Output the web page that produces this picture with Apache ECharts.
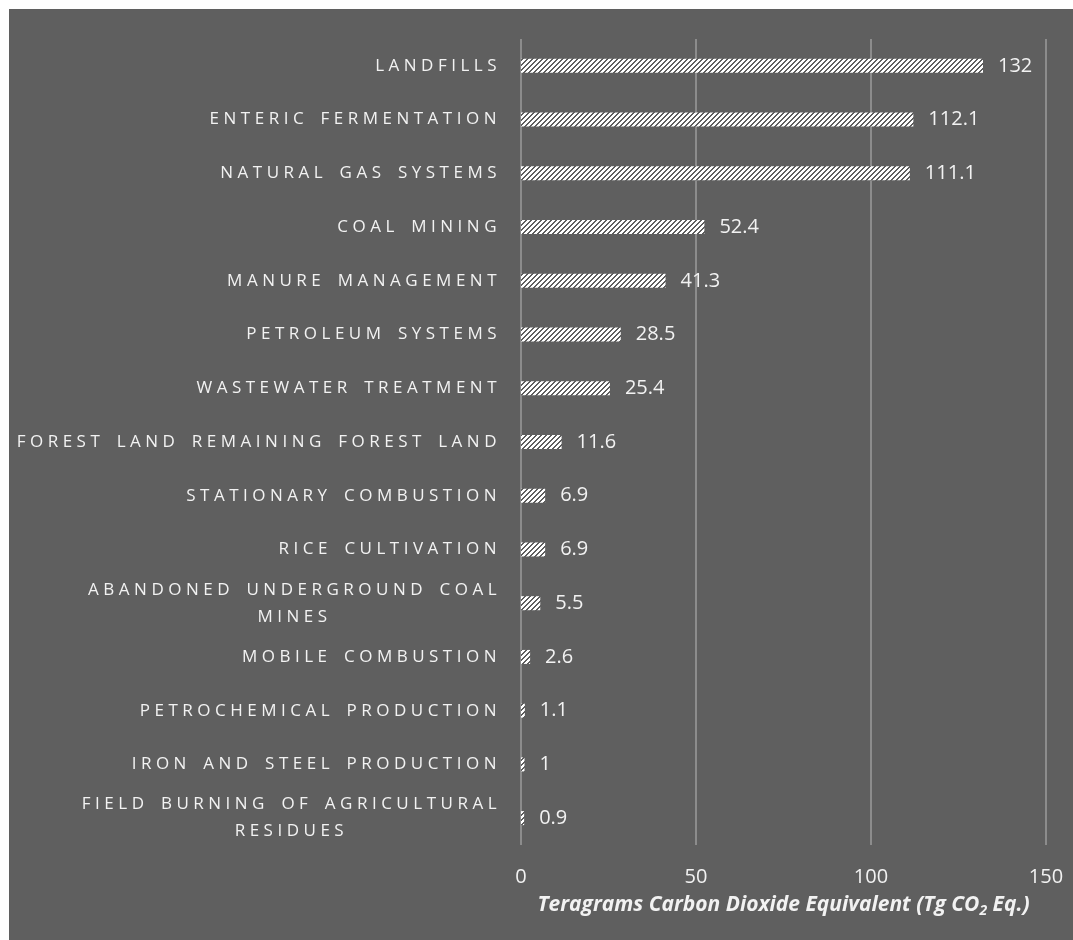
<!DOCTYPE html>
<html>
<head>
<meta charset="utf-8">
<script src="https://cdn.jsdelivr.net/npm/echarts@6/dist/echarts.min.js"></script>
<style>
  html, body { margin: 0; padding: 0; background: #ffffff; }
  #chart { width: 1073px; height: 940px; }
</style>
</head>
<body>
<div id="chart"></div>
<script>
// ---- data ----
const categories = [
  'LANDFILLS',
  'ENTERIC FERMENTATION',
  'NATURAL GAS SYSTEMS',
  'COAL MINING',
  'MANURE MANAGEMENT',
  'PETROLEUM SYSTEMS',
  'WASTEWATER TREATMENT',
  'FOREST LAND REMAINING FOREST LAND',
  'STATIONARY COMBUSTION',
  'RICE CULTIVATION',
  'ABANDONED UNDERGROUND COAL\nMINES',
  'MOBILE COMBUSTION',
  'PETROCHEMICAL PRODUCTION',
  'IRON AND STEEL PRODUCTION',
  'FIELD BURNING OF AGRICULTURAL\nRESIDUES'
];
const values = [132, 112.1, 111.1, 52.4, 41.3, 28.5, 25.4, 11.6, 6.9, 6.9, 5.5, 2.6, 1.1, 1, 0.9];
const xTicks = { min: 0, max: 150, interval: 50 };
const axisTitle = ['Teragrams Carbon Dioxide Equivalent (Tg CO', '2', ' Eq.)'];

// ---- hatch pattern ----
function makeHatch() {
  const n = 5;
  const c = document.createElement('canvas');
  c.width = n; c.height = n;
  const ctx = c.getContext('2d');
  ctx.fillStyle = '#ffffff';
  ctx.fillRect(0, 0, n, n);
  ctx.fillStyle = '#5f5f5f';
  for (let x = 0; x < n; x++) {
    for (let y = 0; y < n; y++) {
      if ((x + y) % n < 2) ctx.fillRect(x, y, 1, 1);
    }
  }
  return c;
}

const FONT = 'Open Sans';
const TXT = '#f2f2f2';

function spaced(line, style) {
  return line.split('').map(ch => '{' + (ch === ' ' ? style + 'w' : style) + '|' + ch + '}').join('');
}
function labelFmt(val) {
  const lines = val.split('\n');
  return lines.map((ln, i) => spaced(ln, i === 0 ? 'l' : 'c')).join('\n');
}

const chart = echarts.init(document.getElementById('chart'), null, { renderer: 'canvas' });
const letterStyle = {
  fontFamily: FONT, fontSize: 17, color: TXT, lineHeight: 27, padding: [0, 4.5, 0, 0]
};
const spaceStyle = Object.assign({}, letterStyle, { padding: [0, 8, 0, 0] });
chart.setOption({
  backgroundColor: '#ffffff',
  animation: false,
  graphic: [{
    type: 'rect', z: -100, silent: true,
    shape: { x: 9, y: 9, width: 1064, height: 931 },
    style: { fill: '#5f5f5f' }
  }],
  grid: { left: 521, right: 27, top: 39, bottom: 95, containLabel: false },
  xAxis: {
    type: 'value',
    min: xTicks.min, max: xTicks.max, interval: xTicks.interval,
    axisLine: { show: false },
    axisTick: { show: false },
    splitLine: { show: true, lineStyle: { color: '#8c8c8c', width: 2 } },
    axisLabel: { color: TXT, fontFamily: FONT, fontSize: 20, margin: 22 },
    name: '{t|' + axisTitle[0] + '}{s|' + axisTitle[1] + '}{t|' + axisTitle[2] + '}',
    nameLocation: 'middle',
    nameGap: 47,
    nameTextStyle: {
      rich: {
        t: { fontFamily: FONT, fontSize: 21, fontWeight: 'bold', fontStyle: 'italic', color: TXT, lineHeight: 26 },
        s: { fontFamily: FONT, fontSize: 14, fontWeight: 'bold', fontStyle: 'italic', color: TXT, lineHeight: 16, verticalAlign: 'bottom' }
      }
    }
  },
  yAxis: {
    type: 'category',
    inverse: true,
    data: categories,
    axisLine: { show: false },
    axisTick: { show: false },
    splitLine: { show: false },
    axisLabel: {
      interval: 0,
      margin: 20,
      align: 'right',
      formatter: labelFmt,
      rich: {
        l: letterStyle,
        lw: spaceStyle,
        c: Object.assign({}, letterStyle, { align: 'center' }),
        cw: Object.assign({}, spaceStyle, { align: 'center' })
      }
    }
  },
  series: [{
    type: 'bar',
    data: values,
    barWidth: 14,
    itemStyle: { color: { image: makeHatch(), repeat: 'repeat' } },
    label: {
      show: true, position: 'right', distance: 15,
      color: TXT, fontFamily: FONT, fontSize: 20
    }
  }]
});
</script>
</body>
</html>
